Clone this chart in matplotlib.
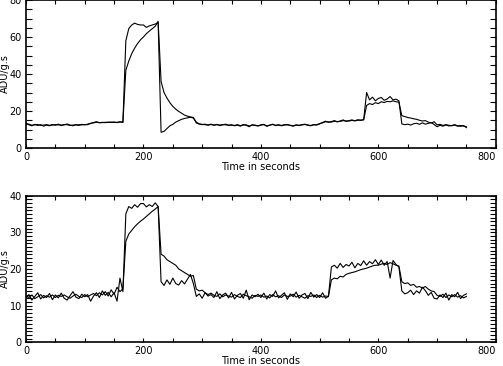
import numpy as np
import matplotlib
matplotlib.use('Agg')
import matplotlib.pyplot as plt
from matplotlib.ticker import MultipleLocator

# time axis, one sample every 5 s (0..750)
t = np.arange(0, 755, 5)

# top panel, fast response
top_fast = [
    13.5, 12.5, 12.0, 12.8, 12.2, 12.6, 11.8, 12.4, 12.0, 12.7,
    12.3, 12.9, 12.1, 12.5, 13.0, 12.4, 12.0, 12.6, 12.2, 12.8,
    12.5, 12.9, 13.2, 13.8, 14.2, 13.6, 13.9, 13.7, 14.0, 13.8,
    14.1, 13.7, 14.2, 13.8, 58.0, 64.5, 66.5, 67.5, 66.8, 66.5,
    66.5, 65.2, 66.0, 66.5, 67.0, 67.8, 8.5, 9.0, 10.5, 12.0,
    12.8, 14.0, 14.8, 15.5, 16.0, 16.3, 16.6, 16.2, 14.0, 13.0,
    12.6, 12.9, 12.3, 12.7, 12.4, 12.8, 12.1, 12.5, 12.9, 12.2,
    12.6, 12.0, 12.4, 11.8, 12.7, 12.3, 11.5, 12.6, 12.2, 11.9,
    12.4, 12.8, 11.7, 12.3, 12.9, 12.1, 12.6, 12.0, 12.4, 12.7,
    12.2, 11.8, 12.5, 12.1, 12.6, 12.9, 12.3, 12.0, 12.7, 12.4,
    13.0, 13.8, 14.5, 13.9, 14.3, 14.8, 14.1, 14.6, 15.2, 14.4,
    14.8, 15.2, 14.6, 15.3, 14.9, 15.4, 30.0, 26.0, 27.5, 25.5,
    26.8, 27.3, 25.8, 26.5, 27.8, 26.0, 26.4, 25.5, 13.0, 12.6,
    12.9, 12.4, 13.1, 13.4, 12.8, 13.6, 12.9, 13.3, 13.8, 12.7,
    11.5, 12.3, 11.8, 12.5, 11.9, 12.2, 12.6, 12.0, 11.7, 12.1,
    11.0,
]

# top panel, slow response
top_slow = [
    12.8, 12.9, 12.3, 12.5, 12.7, 12.2, 12.4, 12.6, 12.3, 12.4,
    12.6, 12.5, 12.4, 12.7, 12.6, 12.2, 12.4, 12.5, 12.6, 12.5,
    12.7, 12.6, 13.4, 13.6, 13.9, 13.8, 13.7, 13.9, 13.8, 14.0,
    13.8, 13.9, 14.0, 14.1, 42.0, 47.0, 51.0, 54.0, 56.5, 58.5,
    60.0, 61.8, 63.2, 64.5, 65.8, 68.5, 36.0, 30.0, 27.0, 24.5,
    22.5, 21.0, 19.8, 18.8, 17.8, 17.2, 16.8, 16.5, 13.5, 13.0,
    12.8, 12.6, 12.5, 12.9, 12.3, 12.6, 12.4, 12.7, 12.5, 12.4,
    12.3, 12.2, 12.6, 12.1, 12.4, 12.5, 11.9, 12.3, 12.4, 12.0,
    12.5, 12.6, 12.0, 12.4, 12.7, 12.3, 12.4, 12.2, 12.6, 12.5,
    12.3, 12.0, 12.4, 12.3, 12.5, 12.7, 12.4, 12.2, 12.5, 12.6,
    13.2, 13.6, 14.2, 14.1, 14.0, 14.5, 14.3, 14.4, 14.8, 14.6,
    14.6, 14.9, 14.8, 15.0, 15.1, 15.2, 23.0, 24.0, 23.5, 24.5,
    24.0, 25.0, 24.6, 25.2, 25.0, 25.5, 25.0, 24.8, 17.5, 17.0,
    16.5, 16.2, 15.8, 15.5, 15.0, 14.6, 14.8, 14.0, 13.5, 14.2,
    12.5, 12.8, 12.2, 12.6, 12.3, 12.0, 12.4, 11.8, 12.2, 11.9,
    11.5,
]

# bottom panel, fast response
bot_fast = [
    12.0, 13.0, 11.5, 12.5, 13.5, 11.8, 12.8, 12.2, 13.3, 11.6,
    12.9, 12.1, 13.4, 12.0, 11.5, 12.7, 13.8, 12.3, 11.9, 13.1,
    12.4, 13.0, 11.2, 12.6, 13.5, 12.2, 14.0, 12.8, 13.6, 12.4,
    13.5, 11.2, 17.5, 13.8, 35.0, 37.0, 36.5, 37.5, 36.8, 37.8,
    37.8, 36.9, 37.5, 37.0, 38.0, 37.0, 16.5, 15.5, 17.0, 15.8,
    17.5, 16.0, 15.6, 16.8, 15.9, 17.2, 18.5, 16.0, 12.5, 13.2,
    12.0, 13.5, 12.6, 13.0, 12.2, 13.8, 11.9, 12.9, 13.4, 12.1,
    13.6, 11.8, 12.8, 13.3, 12.0, 14.2, 11.6, 12.9, 12.4, 13.1,
    12.2, 13.4, 11.8, 13.0, 12.5, 14.0, 12.1, 12.8, 13.5, 11.7,
    13.2, 12.4, 13.7, 12.0, 12.9, 13.3, 11.9, 13.6, 12.3, 13.0,
    12.2, 13.5, 12.0, 12.5, 20.5, 21.0, 20.2, 21.5, 20.4, 21.2,
    20.8, 21.8, 20.3, 21.5, 20.9, 22.2, 21.0, 22.0, 21.4, 22.5,
    21.2, 22.4, 21.0, 22.0, 17.5, 22.3, 21.2, 20.5, 14.0, 13.2,
    13.5, 14.2, 13.0, 14.0, 13.4, 15.0, 14.1, 12.8, 13.6, 12.0,
    11.8, 12.9, 12.2, 13.4, 11.5, 13.0, 12.4, 13.6, 11.9, 12.8,
    13.2,
]

# bottom panel, slow response
bot_slow = [
    12.6, 12.2, 12.9, 11.9, 12.4, 13.0, 12.1, 12.7, 12.3, 12.9,
    12.2, 12.8, 12.5, 12.9, 12.4, 12.0, 12.6, 13.1, 12.5, 12.2,
    13.0, 12.4, 12.9, 13.3, 12.7, 13.5, 12.9, 13.8, 12.6, 14.3,
    13.1, 15.0, 13.8, 14.6, 27.5, 29.5, 30.5, 31.5, 32.3, 33.0,
    33.6, 34.3, 35.0, 35.7, 36.3, 37.0, 24.0, 23.5, 22.5, 22.0,
    21.5, 21.0, 20.0, 19.5, 19.0, 18.5, 18.0, 18.2, 14.5, 14.0,
    14.2, 13.5, 13.0, 13.4, 12.8, 12.5, 13.2, 12.4, 12.9, 12.6,
    12.3, 13.0, 12.5, 12.2, 13.1, 12.7, 12.4, 12.0, 12.8, 12.5,
    12.9, 12.3, 12.6, 12.1, 13.0, 12.4, 12.7, 12.2, 12.9, 12.5,
    12.6, 13.1, 12.3, 12.8, 12.4, 12.0, 12.7, 12.5, 12.9, 12.2,
    12.8, 12.3, 12.6, 12.5, 17.0, 17.5, 17.3, 18.0, 17.8, 18.5,
    18.8, 19.0, 19.2, 19.5, 19.8, 20.0, 20.2, 20.5, 20.8, 21.0,
    21.0, 21.3, 21.5, 21.2, 21.7, 21.4, 21.0, 20.8, 16.5, 16.0,
    16.2, 15.5, 15.8, 15.0, 15.2, 14.8, 15.2, 14.5, 14.0, 13.8,
    12.8, 12.5, 13.1, 12.2, 12.9, 12.4, 13.0, 12.3, 12.7, 12.1,
    12.5,
]

plt.rcParams['font.family'] = 'DejaVu Sans'
plt.rcParams['font.size'] = 7

fig = plt.figure(figsize=(5.03, 3.66), dpi=100)
ax1 = fig.add_axes([0.0517, 0.5956, 0.934, 0.4044])
ax2 = fig.add_axes([0.0517, 0.0648, 0.934, 0.401])

for ax, a, b, ymax, ymaj, ymin in [(ax1, top_fast, top_slow, 80, 20, 5),
                                   (ax2, bot_fast, bot_slow, 40, 10, 1)]:
    ax.plot(t, a, color='black', lw=0.8)
    ax.plot(t, b, color='black', lw=0.8)
    ax.set_xlim(0, 800)
    ax.set_ylim(0, ymax)
    ax.set_xticks([0, 200, 400, 600, 800])
    ax.set_xticklabels(['0', '200', '400', '600', '800'])
    ax.xaxis.set_minor_locator(MultipleLocator(50))
    ax.yaxis.set_major_locator(MultipleLocator(ymaj))
    ax.yaxis.set_minor_locator(MultipleLocator(ymin))
    ax.tick_params(axis='both', which='both', direction='in', top=True, right=True,
                   width=0.8, labelsize=7, pad=3)
    ax.tick_params(axis='x', which='both', length=3)
    ax.tick_params(axis='y', which='both', length=4)
    for s in ax.spines.values():
        s.set_linewidth(1.2)
    ax.set_xlabel('Time in seconds', fontsize=7, labelpad=0)
    ax.set_ylabel('ADU/g.s', fontsize=7)
    ax.yaxis.set_label_coords(-0.034, 0.5)
    # keep the last x label inside the figure, as in the original
    for lab in ax.get_xticklabels():
        if lab.get_text() == '800':
            lab.set_horizontalalignment('right')

fig.savefig('out.png', dpi=100)
